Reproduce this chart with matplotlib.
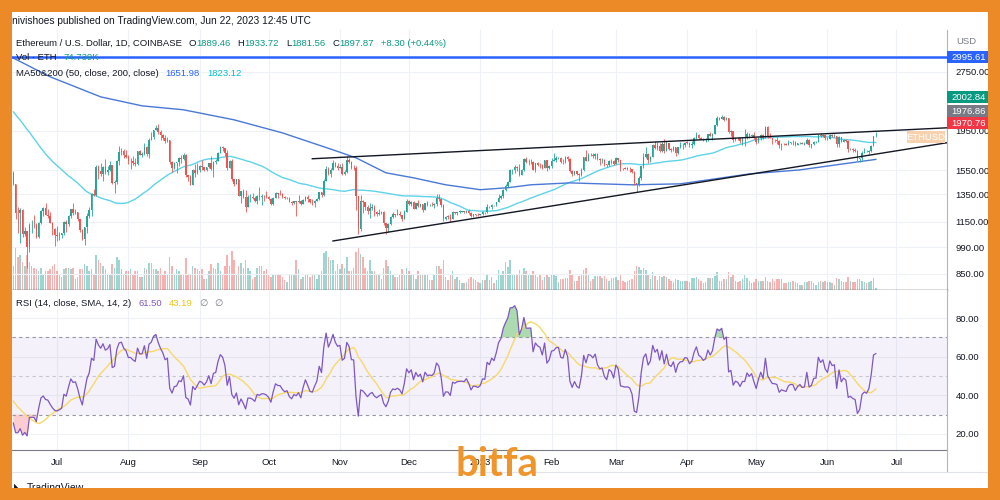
import numpy as np
import pandas as pd
import matplotlib
matplotlib.use("Agg")
import matplotlib.pyplot as plt
import matplotlib.dates as mdates
from matplotlib.patches import Rectangle
from matplotlib.ticker import NullLocator

plt.rcParams['font.family'] = ['Liberation Sans', 'DejaVu Sans']

# warm-up closes, off screen (Apr 23 - Jun 11 2022), only feed MA50 and RSI
pre_close = [2937, 2922, 3008, 2809, 2889, 2936, 2818, 2729,
             2827, 2857, 2782, 2940, 2749, 2695, 2636, 2519, 2244, 2342, 2077, 1962, 2012, 2057, 2145, 2023, 2091, 1913,
             2018, 1961, 1975, 2043, 1972, 1978, 1944, 1793, 1724, 1793, 1813, 1996, 1942,
             1819, 1834, 1775, 1805, 1806, 1859, 1814, 1793, 1789, 1662, 1529]

first_day = "2022-06-12"

# daily candles Jun 12 2022 - Jun 22 2023, one line per month
close = [1433, 1208, 1207, 1234, 1068, 1087, 994, 1127, 1128, 1125, 1051, 1143, 1225, 1242, 1199, 1192, 1143, 1099, 1067,
         1060, 1066, 1074, 1150, 1134, 1186, 1237, 1212, 1216, 1168, 1097, 1038, 1113, 1192, 1233, 1354, 1340, 1582, 1543, 1521, 1576, 1535, 1551, 1597, 1440, 1451, 1637, 1726, 1737, 1696, 1679,
         1633, 1633, 1618, 1608, 1732, 1697, 1700, 1777, 1703, 1853, 1880, 1958, 1982, 1936, 1902, 1876, 1834, 1848, 1623, 1573, 1621, 1625, 1662, 1656, 1696, 1507, 1491, 1425, 1555, 1524, 1554,
         1586, 1578, 1556, 1576, 1617, 1561, 1630, 1636, 1718, 1776, 1762, 1715, 1574, 1637, 1474, 1433, 1470, 1336, 1377, 1324, 1253, 1328, 1328, 1316, 1294, 1336, 1328, 1337, 1336, 1328,
         1311, 1276, 1323, 1362, 1352, 1351, 1331, 1318, 1322, 1292, 1280, 1294, 1288, 1297, 1275, 1306, 1331, 1310, 1286, 1283, 1300, 1315, 1364, 1344, 1461, 1565, 1513, 1555, 1619, 1588, 1572,
         1579, 1519, 1531, 1645, 1628, 1569, 1568, 1333, 1100, 1299, 1287, 1256, 1221, 1242, 1252, 1216, 1200, 1211, 1218, 1142, 1108, 1135, 1184, 1203, 1198, 1205, 1195, 1170, 1217, 1297,
         1276, 1293, 1241, 1280, 1259, 1271, 1232, 1280, 1264, 1266, 1264, 1275, 1320, 1309, 1265, 1167, 1185, 1184, 1166, 1217, 1212, 1218, 1219, 1220, 1218, 1227, 1212, 1190, 1200, 1199, 1196,
         1200, 1215, 1214, 1256, 1251, 1269, 1264, 1287, 1321, 1336, 1384, 1418, 1451, 1550, 1552, 1577, 1567, 1512, 1553, 1659, 1627, 1628, 1629, 1556, 1613, 1603, 1598, 1573, 1645, 1567, 1586,
         1641, 1645, 1663, 1665, 1631, 1628, 1674, 1651, 1547, 1514, 1540, 1515, 1506, 1557, 1674, 1640, 1695, 1692, 1681, 1704, 1659, 1642, 1646, 1609, 1595, 1640, 1632, 1605,
         1664, 1648, 1570, 1567, 1564, 1565, 1560, 1534, 1438, 1430, 1481, 1586, 1678, 1703, 1650, 1676, 1796, 1763, 1787, 1734, 1808, 1736, 1816, 1752, 1742, 1777, 1713, 1772, 1791, 1794, 1822,
         1820, 1793, 1808, 1868, 1908, 1872, 1864, 1850, 1860, 1912, 1893, 1920, 2013, 2100, 2094, 2117, 2077, 2097, 1934, 1944, 1850, 1874, 1866, 1840, 1866, 1866, 1910, 1893, 1906, 1867,
         1830, 1873, 1907, 1876, 1993, 1897, 1871, 1848, 1847, 1842, 1796, 1807, 1802, 1798, 1819, 1825, 1823, 1799, 1812, 1818, 1807, 1809, 1853, 1801, 1806, 1828, 1829, 1906, 1890, 1901, 1873,
         1862, 1905, 1891, 1894, 1811, 1883, 1831, 1847, 1838, 1751, 1755, 1743, 1738, 1652, 1665, 1717, 1726, 1720, 1736, 1788, 1889.46, 1897.87]

high = [1545, 1435, 1256, 1247, 1236, 1116, 1087, 1141, 1158, 1195, 1142, 1150, 1230, 1249, 1280, 1236, 1214, 1148, 1107,
        1124, 1081, 1077, 1153, 1162, 1193, 1240, 1279, 1235, 1220, 1170, 1101, 1117, 1210, 1249, 1358, 1390, 1600, 1600, 1621, 1590, 1653, 1588, 1640, 1597, 1465, 1645, 1783, 1766, 1750, 1746,
        1696, 1670, 1680, 1665, 1738, 1748, 1728, 1818, 1785, 1868, 1942, 1960, 2020, 2030, 1963, 1910, 1906, 1881, 1847, 1640, 1630, 1630, 1678, 1694, 1717, 1704, 1510, 1506, 1563, 1606, 1618,
        1595, 1647, 1580, 1581, 1620, 1687, 1641, 1651, 1726, 1786, 1782, 1764, 1744, 1644, 1651, 1475, 1475, 1473, 1378, 1390, 1380, 1340, 1347, 1358, 1336, 1341, 1403, 1350, 1346, 1372,
        1333, 1320, 1326, 1366, 1362, 1380, 1362, 1335, 1326, 1330, 1296, 1299, 1300, 1340, 1303, 1313, 1336, 1340, 1313, 1310, 1303, 1320, 1370, 1370, 1475, 1592, 1583, 1567, 1642, 1628, 1618,
        1605, 1619, 1555, 1680, 1663, 1632, 1603, 1586, 1335, 1345, 1306, 1289, 1270, 1280, 1278, 1268, 1225, 1235, 1226, 1225, 1142, 1140, 1188, 1215, 1205, 1235, 1223, 1198, 1230, 1310,
        1308, 1300, 1300, 1282, 1302, 1276, 1275, 1284, 1298, 1277, 1290, 1280, 1349, 1352, 1312, 1275, 1190, 1195, 1200, 1222, 1220, 1220, 1230, 1223, 1227, 1230, 1235, 1215, 1205, 1202, 1208,
        1203, 1222, 1218, 1273, 1259, 1272, 1270, 1290, 1350, 1345, 1389, 1432, 1455, 1565, 1560, 1600, 1591, 1605, 1560, 1664, 1675, 1653, 1655, 1640, 1620, 1628, 1622, 1608, 1648, 1649, 1599,
        1662, 1715, 1680, 1677, 1672, 1658, 1684, 1680, 1663, 1552, 1546, 1540, 1523, 1568, 1677, 1742, 1715, 1712, 1718, 1715, 1716, 1662, 1668, 1660, 1612, 1646, 1657, 1650,
        1677, 1668, 1648, 1575, 1581, 1577, 1580, 1566, 1546, 1441, 1502, 1593, 1710, 1780, 1710, 1684, 1810, 1843, 1824, 1815, 1830, 1859, 1838, 1822, 1762, 1785, 1780, 1780, 1829, 1818, 1826,
        1842, 1829, 1838, 1880, 1942, 1914, 1877, 1872, 1868, 1915, 1935, 1930, 2018, 2129, 2112, 2134, 2120, 2114, 2097, 1964, 1947, 1879, 1885, 1880, 1870, 1970, 1940, 1922, 1915, 1937,
        1875, 1880, 1915, 1912, 2000, 2009, 1925, 1870, 1858, 1881, 1844, 1815, 1818, 1820, 1850, 1830, 1844, 1838, 1822, 1823, 1825, 1825, 1871, 1856, 1810, 1840, 1835, 1910, 1927, 1914, 1905,
        1880, 1910, 1912, 1910, 1896, 1890, 1884, 1860, 1860, 1844, 1767, 1765, 1760, 1747, 1670, 1730, 1770, 1745, 1745, 1797, 1896, 1933.72]

low = [1420, 1170, 1075, 1015, 1051, 1061, 880, 963, 1075, 1107, 1043, 1048, 1137, 1190, 1196, 1172, 1140, 1067, 997,
       1030, 1035, 1045, 1067, 1083, 1119, 1172, 1198, 1200, 1152, 1086, 1034, 1006, 1075, 1173, 1190, 1338, 1338, 1477, 1504, 1460, 1516, 1505, 1540, 1434, 1357, 1433, 1598, 1690, 1670, 1670,
       1608, 1566, 1603, 1590, 1603, 1693, 1675, 1696, 1682, 1665, 1847, 1855, 1955, 1910, 1853, 1850, 1820, 1825, 1606, 1535, 1558, 1530, 1585, 1621, 1650, 1491, 1455, 1422, 1423, 1491, 1520,
       1532, 1552, 1545, 1547, 1570, 1557, 1495, 1606, 1633, 1713, 1732, 1688, 1557, 1568, 1460, 1415, 1431, 1333, 1283, 1317, 1218, 1250, 1286, 1310, 1289, 1277, 1306, 1265, 1300, 1318,
       1307, 1270, 1270, 1319, 1322, 1345, 1318, 1315, 1310, 1287, 1269, 1277, 1191, 1283, 1269, 1274, 1295, 1286, 1280, 1270, 1256, 1296, 1305, 1325, 1339, 1460, 1509, 1491, 1554, 1584, 1550,
       1567, 1508, 1506, 1528, 1617, 1566, 1552, 1233, 1073, 1091, 1210, 1233, 1205, 1175, 1230, 1192, 1187, 1195, 1200, 1130, 1073, 1082, 1128, 1178, 1181, 1195, 1192, 1155, 1166, 1215,
       1268, 1262, 1238, 1240, 1255, 1250, 1220, 1228, 1260, 1260, 1262, 1243, 1260, 1296, 1255, 1155, 1160, 1168, 1150, 1165, 1203, 1196, 1212, 1216, 1208, 1213, 1205, 1185, 1185, 1187, 1192,
       1193, 1196, 1205, 1213, 1245, 1240, 1261, 1262, 1287, 1311, 1320, 1372, 1405, 1450, 1520, 1530, 1546, 1500, 1508, 1542, 1617, 1600, 1608, 1549, 1533, 1590, 1570, 1566, 1567, 1545, 1565,
       1570, 1635, 1624, 1651, 1616, 1608, 1617, 1638, 1537, 1502, 1509, 1505, 1461, 1500, 1545, 1635, 1636, 1685, 1670, 1660, 1650, 1600, 1620, 1585, 1584, 1590, 1612, 1602,
       1604, 1628, 1542, 1555, 1560, 1553, 1536, 1530, 1423, 1370, 1414, 1465, 1568, 1662, 1618, 1630, 1672, 1757, 1745, 1723, 1722, 1710, 1730, 1740, 1720, 1732, 1682, 1705, 1769, 1755, 1775,
       1811, 1776, 1765, 1797, 1862, 1860, 1856, 1843, 1826, 1838, 1888, 1850, 1915, 2003, 2082, 2087, 2065, 2074, 1921, 1890, 1825, 1840, 1848, 1815, 1800, 1790, 1855, 1875, 1887, 1865,
       1805, 1820, 1852, 1865, 1872, 1866, 1868, 1803, 1826, 1808, 1767, 1740, 1795, 1791, 1792, 1806, 1795, 1786, 1796, 1806, 1802, 1795, 1808, 1779, 1764, 1796, 1820, 1827, 1879, 1880, 1846,
       1845, 1858, 1887, 1884, 1780, 1780, 1828, 1823, 1830, 1720, 1742, 1727, 1728, 1632, 1626, 1645, 1716, 1720, 1708, 1725, 1786, 1881.56]

# volume in thousand ETH
volume_k = [1100, 1900, 1500, 1600, 1300, 1100, 1600, 1300, 1100, 1000, 950, 850, 1000, 700, 850, 850, 950, 1100, 1200,
            850, 700, 600, 950, 1000, 1000, 950, 1000, 500, 600, 950, 950, 1200, 1100, 850, 950, 700, 1600, 1350, 1250, 1100, 950, 700, 750, 1200, 1000, 1500, 1350, 950, 750, 850,
            850, 950, 750, 850, 850, 600, 600, 1000, 950, 1250, 1250, 950, 950, 850, 1000, 750, 850, 700, 1500, 1100, 700, 950, 850, 750, 750, 1450, 700, 700, 1100, 1000, 950,
            850, 950, 500, 500, 850, 1200, 1000, 950, 1250, 850, 700, 1100, 1600, 1100, 1800, 1350, 700, 1100, 1250, 1000, 1350, 1000, 850, 500, 600, 1000, 1100, 1100, 850, 950,
            700, 600, 750, 750, 700, 700, 600, 450, 350, 700, 700, 700, 1350, 950, 500, 600, 700, 750, 600, 700, 750, 500, 750, 850, 1700, 1800, 1500, 1350, 1350, 850, 1200,
            950, 1200, 1000, 1500, 850, 850, 1000, 1750, 1900, 1650, 1500, 1000, 850, 1350, 850, 850, 750, 750, 500, 1000, 1350, 1100, 850, 700, 600, 600, 700, 950, 750, 1000,
            850, 700, 700, 500, 850, 700, 750, 700, 700, 450, 450, 750, 1100, 1100, 950, 1350, 600, 450, 700, 850, 500, 600, 450, 300, 300, 350, 500, 600, 500, 450, 350,
            300, 450, 450, 750, 450, 600, 300, 450, 900, 750, 850, 1300, 1050, 1350, 750, 750, 750, 900, 700, 1000, 850, 700, 700, 850, 750, 600, 700, 450, 600, 750, 600,
            700, 750, 650, 350, 500, 500, 550, 550, 900, 750, 400, 400, 650, 700, 900, 1000, 750, 400, 500, 650, 650, 650, 550, 650, 500, 400, 550, 550,
            600, 450, 700, 400, 350, 400, 450, 500, 850, 1100, 1050, 900, 1000, 900, 700, 500, 800, 650, 450, 650, 600, 650, 600, 500, 400, 350, 500, 450, 400, 400, 400,
            400, 350, 550, 550, 600, 500, 400, 300, 350, 550, 550, 550, 650, 800, 400, 400, 500, 500, 800, 600, 700, 400, 350, 400, 500, 700, 550, 400, 300, 350,
            500, 400, 400, 400, 600, 400, 350, 500, 400, 500, 500, 500, 300, 300, 350, 350, 400, 350, 300, 250, 250, 350, 350, 400, 400, 300, 250, 350, 400, 350, 400,
            350, 350, 300, 250, 550, 500, 400, 350, 350, 600, 400, 350, 350, 500, 500, 400, 350, 300, 350, 400, 550, 75]

# 200 day MA
ma200_dates = ["2022-06-11", "2022-06-28", "2022-07-20", "2022-08-07", "2022-08-25", "2022-09-16", "2022-10-07",
               "2022-10-29", "2022-11-08", "2022-11-21", "2022-12-03", "2022-12-17", "2023-01-01", "2023-01-13",
               "2023-01-23", "2023-02-09", "2023-03-08", "2023-03-29", "2023-04-28", "2023-05-20", "2023-06-22"]
ma200_vals = [2998, 2670, 2376, 2255, 2204, 2079, 1927, 1746, 1667, 1528, 1484, 1425, 1385, 1401,
              1425, 1441, 1425, 1433, 1518, 1554, 1652]

# drawn trend lines (date, price)
upper_line = (["2022-10-20", "2023-07-23"], [1658, 1985])
lower_line = (["2022-10-29", "2023-07-23"], [1028, 1820])
hline_price = 2995.61

price_ticks = [850, 990, 1150, 1350, 1550, 1950, 2750]
rsi_ticks = [20, 40, 60, 80]
month_starts = pd.date_range("2022-07-01", "2023-07-01", freq="MS")
month_labels = ["Jul", "Aug", "Sep", "Oct", "Nov", "Dec", "2023", "Feb", "Mar", "Apr", "May", "Jun", "Jul"]

assert len(close) == len(high) == len(low) == len(volume_k)

UP, DOWN = "#26a69a", "#ef5350"

dates = pd.date_range(first_day, periods=len(close), freq="D")
x = mdates.date2num(dates)
all_close = pd.Series(pre_close + close, dtype=float)
c = np.array(close, dtype=float)
o = all_close.values[len(pre_close) - 1:-1]
h = np.maximum(np.array(high, float), np.maximum(o, c))
l = np.minimum(np.array(low, float), np.minimum(o, c))
up = c >= o
col = np.where(up, UP, DOWN)

ma50 = all_close.rolling(50).mean().values[len(pre_close):]

delta = all_close.diff()
gain = delta.clip(lower=0).ewm(alpha=1 / 14, adjust=False).mean()
loss = (-delta.clip(upper=0)).ewm(alpha=1 / 14, adjust=False).mean()
rsi_all = 100 - 100 / (1 + gain / loss)
rsi_ma_all = rsi_all.rolling(14).mean()
rsi = rsi_all.values[len(pre_close):]
rsi_ma = rsi_ma_all.values[len(pre_close):]

fig = plt.figure(figsize=(10, 5), dpi=100, facecolor="white")

def px(xp, yp):
    return xp / 1000, 1 - yp / 500

main_rect = [0.012, 0.42, 0.935, 0.52]
ax_vol = fig.add_axes(main_rect)
ax = fig.add_axes(main_rect, sharex=ax_vol)
ax.patch.set_alpha(0)
ax_rsi = fig.add_axes([0.012, 0.10, 0.935, 0.32], sharex=ax_vol)

jul1 = mdates.date2num(pd.Timestamp("2022-07-01"))
ax_vol.set_xlim(jul1 - 19.57, jul1 + 386.96)

grid_kw = dict(color="#eef1f6", lw=0.8, zorder=0)
mx = mdates.date2num(month_starts)
for a in (ax_vol, ax_rsi):
    for m in mx:
        a.axvline(m, **grid_kw)

# volume overlay
ax_vol.bar(x, volume_k, width=0.62, color=col, alpha=0.45, linewidth=0)
ax_vol.set_ylim(0, max(volume_k) / 0.16)
ax_vol.set_yticks([])
for s in ax_vol.spines.values():
    s.set_visible(False)
ax_vol.tick_params(axis="x", length=0, labelbottom=False)

# price pane
ax.set_yscale("log")
ax.set_ylim(773, 3505)
for p in price_ticks:
    ax.axhline(p, **grid_kw)
ax.vlines(x, l, h, colors=col, lw=0.6, zorder=3)
body_lo = np.minimum(o, c)
body_h = np.maximum(np.abs(c - o), c * 0.002)
ax.bar(x, body_h, bottom=body_lo, width=0.62, color=col, linewidth=0, zorder=4)

ax.plot(x, ma50, color="#5fd3e8", lw=1.0, zorder=2)
ax.plot(mdates.date2num(pd.to_datetime(ma200_dates)), ma200_vals, color="#4a78d6", lw=1.0, zorder=2)
ax.axhline(hline_price, color="#2962ff", lw=1.8, zorder=5)
for d, pr in (upper_line, lower_line):
    ax.plot(mdates.date2num(pd.to_datetime(d)), pr, color="#131722", lw=1.0, zorder=5)

ax.yaxis.tick_right()
ax.yaxis.set_minor_locator(NullLocator())
ax.set_yticks(price_ticks)
ax.set_yticklabels([f"{p:.2f}" for p in price_ticks])
ax.tick_params(axis="y", length=0, pad=6, labelsize=6.8, labelcolor="#131722")
ax.tick_params(axis="x", length=0, labelbottom=False)
for s in ax.spines.values():
    s.set_visible(False)
ax.spines["bottom"].set_visible(True)
ax.spines["bottom"].set_color("#434651")
ax.spines["bottom"].set_linewidth(1.0)
ax.spines["right"].set_visible(True)
ax.spines["right"].set_color("#b2b5be")

# RSI pane
ax_rsi.set_ylim(11.7, 94.5)
for t in rsi_ticks:
    ax_rsi.axhline(t, **grid_kw)
ax_rsi.axhspan(30, 70, color="#7e57c2", alpha=0.08, lw=0)
ax_rsi.axhline(70, color="#9598a1", lw=0.8, ls=(0, (3, 3)))
ax_rsi.axhline(50, color="#c5c7cf", lw=0.8, ls=(0, (3, 3)))
ax_rsi.axhline(30, color="#9598a1", lw=0.8, ls=(0, (3, 3)))
ax_rsi.fill_between(x, 70, rsi, where=rsi > 70, interpolate=True, color="#4caf50", alpha=0.45, lw=0)
ax_rsi.fill_between(x, 30, rsi, where=rsi < 30, interpolate=True, color="#f23645", alpha=0.25, lw=0)
ax_rsi.plot(x, rsi_ma, color="#f7d96a", lw=1.0)
ax_rsi.plot(x, rsi, color="#7e57c2", lw=0.9)
ax_rsi.yaxis.tick_right()
ax_rsi.set_yticks(rsi_ticks)
ax_rsi.set_yticklabels([f"{t:.2f}" for t in rsi_ticks])
ax_rsi.tick_params(axis="y", length=0, pad=6, labelsize=6.8, labelcolor="#131722")
ax_rsi.set_xticks(mx)
ax_rsi.set_xticklabels(month_labels)
ax_rsi.tick_params(axis="x", length=0, pad=6, labelsize=6.8, labelcolor="#131722")
for s in ax_rsi.spines.values():
    s.set_visible(False)
ax_rsi.spines["bottom"].set_visible(True)
ax_rsi.spines["bottom"].set_color("#787b86")
ax_rsi.spines["right"].set_visible(True)
ax_rsi.spines["right"].set_color("#b2b5be")

# right border of the time axis strip
fig.add_artist(plt.Line2D([0.947, 0.947], [px(0, 472)[1], px(0, 450)[1]], color="#b2b5be", lw=0.8))
fig.add_artist(plt.Line2D([0.012, 0.988], [px(0, 472)[1]] * 2, color="#e0e3eb", lw=0.8))

renderer = fig.canvas.get_renderer()

def chain(x0, yp, parts, size=6.8):
    # parts: (text, colour, gap in px before it)
    xp = x0
    for s, color, gap in parts:
        xp += gap
        t = fig.text(*px(xp, yp), s, color=color, fontsize=size, va="center", ha="left")
        xp = t.get_window_extent(renderer).x1

DARK, GREEN = "#131722", "#089981"
fig.text(*px(12, 21), "nivishoes published on TradingView.com, Jun 22, 2023 12:45 UTC",
         color=DARK, fontsize=7.3, va="center", ha="left")
chain(16, 43, [("Ethereum / U.S. Dollar, 1D, COINBASE", DARK, 0),
               ("O", DARK, 7), ("1889.46", GREEN, 0), ("H", DARK, 7), ("1933.72", GREEN, 0),
               ("L", DARK, 7), ("1881.56", GREEN, 0), ("C", DARK, 7), ("1897.87", GREEN, 0),
               ("+8.30 (+0.44%)", GREEN, 7)])
chain(16, 58, [("Vol \u00b7 ETH", DARK, 0), ("74.739K", GREEN, 7)])
chain(16, 73, [("MA50&200 (50, close, 200, close)", DARK, 0), ("1651.98", "#2962ff", 7),
               ("1823.12", "#00bcd4", 7)])
chain(16, 304, [("RSI (14, close, SMA, 14, 2)", DARK, 0), ("61.50", "#7e57c2", 7),
                ("43.19", "#f0c419", 7), ("\u2205", "#787b86", 7), ("\u2205", "#787b86", 6)])
fig.text(*px(956, 41), "USD", color="#787b86", fontsize=6.8, va="center", ha="left")

# price labels on the scale
for yp, label, bg in [(57, "2995.61", "#2962ff"), (97, "2002.84", "#089981"),
                      (111, "1976.86", "#787b86"), (123, "1970.76", "#f23645")]:
    x0, y0 = px(947, yp + 6)
    fig.add_artist(Rectangle((x0, y0), 0.041, 12 / 500, transform=fig.transFigure,
                             color=bg, lw=0, zorder=5))
    fig.text(*px(951, yp), label, color="white", fontsize=6.8, va="center", ha="left", zorder=6)

x0, y0 = px(907, 143)
fig.add_artist(Rectangle((x0, y0), 0.038, 12 / 500, transform=fig.transFigure,
                         color="#f8d2ae", lw=0, zorder=5))
fig.text(*px(926, 137), "ETHUSD", color="white", fontsize=6.8, va="center", ha="center", zorder=6)

# watermark and footer
fig.text(*px(497, 476), "bitfa", color="#f0952a", fontsize=29, fontweight="bold",
         family=["Lato", "DejaVu Sans"], ha="center", va="baseline", zorder=7)
fig.text(*px(14, 488), "\u25e3", color=DARK, fontsize=9, va="center", ha="left", zorder=6)
fig.text(*px(27, 488), "TradingView", color=DARK, fontsize=7.5, va="center", ha="left", zorder=6)

# orange frame
ORANGE = "#eb8a27"
for rx, ry, rw, rh in [(0, 0, 12, 500), (988, 0, 12, 500), (0, 0, 1000, 12), (0, 488, 1000, 12)]:
    fig.add_artist(Rectangle((rx / 1000, 1 - (ry + rh) / 500), rw / 1000, rh / 500,
                             transform=fig.transFigure, color=ORANGE, lw=0, zorder=20))

fig.savefig("out.png", dpi=100, facecolor="white")
